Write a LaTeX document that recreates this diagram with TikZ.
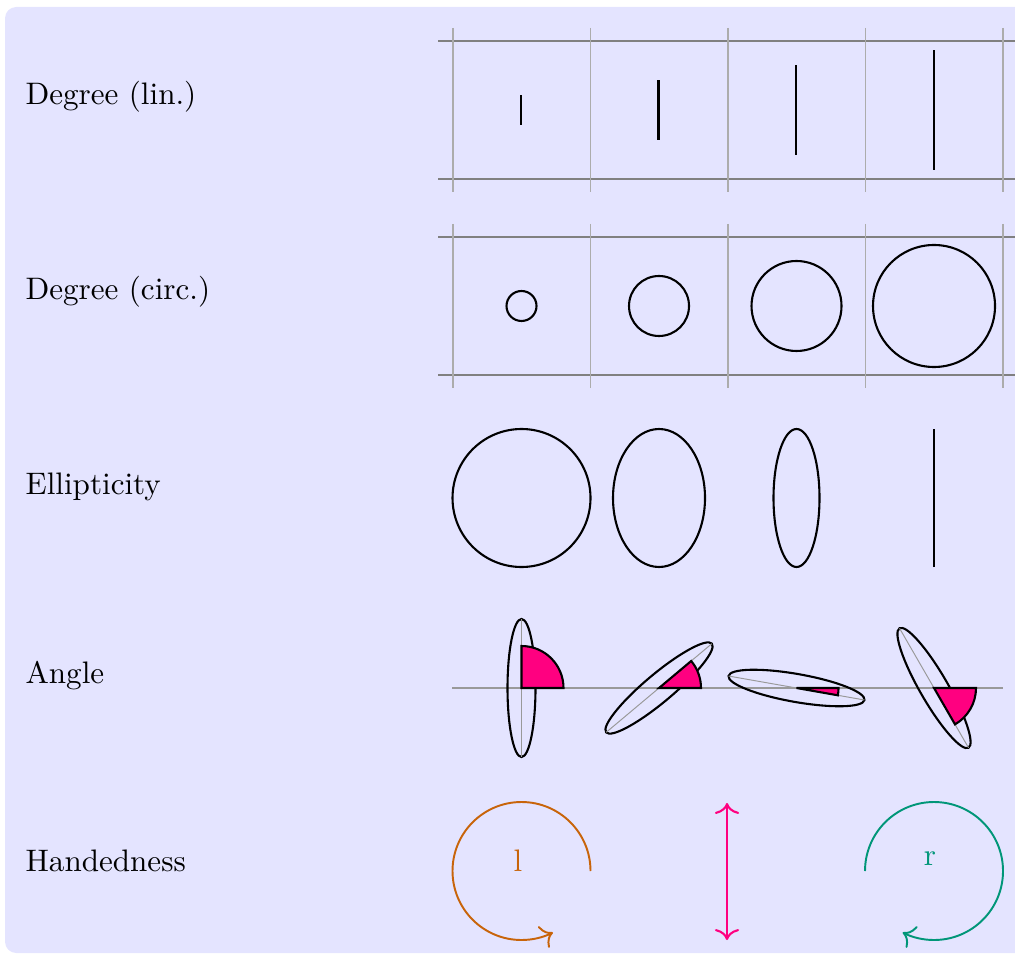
\documentclass[tikz,border=0pt]{standalone}
\usetikzlibrary{arrows.meta,calc}
\definecolor{bgcol}{RGB}{228,228,255}
\definecolor{wedgecol}{RGB}{255,0,128}
\definecolor{leftcol}{RGB}{200,100,10}
\definecolor{rightcol}{RGB}{0,150,120}
\begin{document}
\begin{tikzpicture}[x=0.3104pt,y=0.3104pt,
  hline/.style={draw=gray,line width=0.4pt},
  vline/.style={draw=gray!65,line width=0.45pt},
  blk/.style={draw=black,line width=0.65pt},
  axisline/.style={draw=gray!80,line width=0.3pt},
  wedgebox/.style={fill=wedgecol,draw=black,line width=0.65pt},
  rowlabel/.style={anchor=base west,inner sep=0pt,font=\fontsize{9.65}{12}\selectfont},
  tip/.style={To[length=3.4pt,width=7.5pt]},
  handarc/.style={line width=0.6pt,-{To[length=3.4pt,width=7.5pt]}},
]
\useasboundingbox (0,0) rectangle (1015,955);
\clip (0,0) rectangle (1015,955);
\fill[bgcol,rounded corners=3.5pt] (5,2) rectangle (1040,948);

% labels
\node[rowlabel] (l1) at (25,850) {Degree (lin.)};
\node[rowlabel] (l2) at (25,655) {Degree (circ.)};
\node[rowlabel] (l3) at (25,461) {Ellipticity};
\node[rowlabel] (l4) at (25,272) {Angle};
\node[rowlabel] (l5) at (25,84) {Handedness};

% row 1 grid
\draw[hline] (438,914) -- (1030,914);
\draw[hline] (438,776) -- (1030,776);
\foreach \gx in {453,590.5,728,865.5,1003}
  \draw[vline] (\gx,927) -- (\gx,763);
% row 1 lines
\foreach \cx/\h in {521/15,658.5/30,796/45,934/60}
  \draw[blk] (\cx,845-\h) -- (\cx,845+\h);

% row 2 grid
\draw[hline] (438,718) -- (1030,718);
\draw[hline] (438,580) -- (1030,580);
\foreach \gx in {453,590.5,728,865.5,1003}
  \draw[vline] (\gx,731) -- (\gx,567);
% row 2 circles
\foreach \cx/\r in {521.5/15,659/30,796.5/45,934/61}
  \draw[blk] (\cx,649) circle[radius=\r];

% row 3 ellipses
\foreach \cx/\rx in {521.5/69,659/46,796.5/23}
  \draw[blk] (\cx,457) ellipse[x radius=\rx, y radius=69];
\draw[blk] (934,388) -- (934,526);

% row 4 angles
\draw[draw=gray!80,line width=0.5pt] (452,267) -- (1003,267);
\foreach \cx/\a in {521.5/90,659/40,796.5/-10,934/-60}{
  \draw[blk,rotate around={\a:(\cx,267)}] (\cx,267) ellipse[x radius=69, y radius=14];
  \draw[axisline] ($(\cx,267)+(\a:69)$) -- ($(\cx,267)+(\a+180:69)$);
  \draw[wedgebox] (\cx,267) -- ++(0:42) arc[start angle=0,end angle=\a,radius=42] -- cycle;
}

% row 5 handedness
\draw[handarc,leftcol] (590.5,84) arc[start angle=0,end angle=297,radius=69];
\node[text=leftcol,anchor=base,inner sep=0pt,font=\fontsize{9.65}{12}\selectfont] (hl) at (518,84) {l};
\draw[line width=0.65pt,wedgecol,{To[length=3.4pt,width=7.5pt]}-{To[length=3.4pt,width=7.5pt]}] (727,152) -- (727,15);
\draw[handarc,rightcol] (865,84) arc[start angle=180,end angle=-117,radius=69];
\node[text=rightcol,anchor=base,inner sep=0pt,font=\fontsize{9.65}{12}\selectfont] (hr) at (930,90) {r};
\end{tikzpicture}
\end{document}
